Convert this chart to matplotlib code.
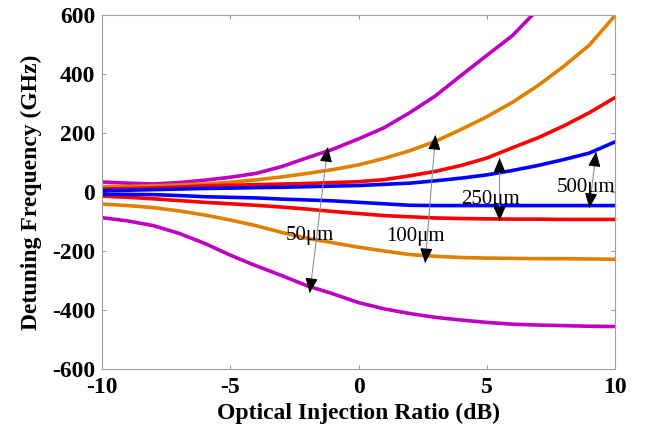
import numpy as np
import matplotlib
matplotlib.use("Agg")
import matplotlib.pyplot as plt

plt.rcParams["axes.unicode_minus"] = False

# ---- data ----
x_full = [-10, -9, -8, -7, -6, -5, -4, -3, -2, -1, 0, 1, 2, 3, 4, 5, 6, 7, 8, 9, 10]
x_mag_up = [-10, -9, -8, -7, -6, -5, -4, -3, -2, -1, 0, 1, 2, 3, 4, 5, 6, 7]
y_mag_up = [34, 30, 27, 32, 40, 50, 63, 86, 116, 145, 180, 218, 269, 326, 395, 463, 530, 620]
y_ora_up = [18, 19, 21, 24, 27, 33, 41, 51, 63, 76, 92, 114, 140, 172, 212, 255, 304, 361, 426, 498, 598]
y_red_up = [10, 12, 14, 17, 21, 23, 25, 27, 29, 32, 35, 42, 55, 70, 90, 115, 150, 184, 224, 269, 320]
y_blu_up = [5, 6, 8, 10, 12, 13, 15, 16, 18, 20, 22, 26, 30, 38, 47, 58, 73, 90, 110, 132, 170]

y_blu_lo = [-7, -8, -9, -12, -16, -18, -20, -24, -27, -30, -35, -40, -45, -46, -46, -46, -46, -46, -46, -46, -46]
y_red_lo = [-14, -18, -23, -29, -35, -40, -45, -51, -58, -66, -73, -80, -84, -88, -90, -91, -92, -92, -93, -93, -93]
y_ora_lo = [-41, -46, -53, -64, -78, -95, -114, -137, -157, -172, -187, -200, -212, -218, -222, -224, -225, -226, -226, -227, -228]
y_mag_lo = [-87, -98, -114, -140, -174, -214, -250, -283, -318, -345, -375, -396, -412, -425, -434, -442, -448, -451, -453, -455, -456]

# annotations: label, label position, upper tip, lower tip
ann_labels = ["50\u03bcm", "100\u03bcm", "250\u03bcm", "500\u03bcm"]
ann_text_xy = [(-1.9, -149), (2.2, -151), (5.15, -26), (8.87, 14)]
ann_up_tip = [(-1.2, 152), (3.0, 193), (5.5, 115), (9.26, 136)]
ann_lo_tip = [(-1.9, -342), (2.6, -241), (5.5, -98), (9.0, -54)]

xticks = [-10, -5, 0, 5, 10]
yticks = [-600, -400, -200, 0, 200, 400, 600]

# ---- styling ----
c_mag = "#C000C0"
c_ora = "#E08000"
c_red = "#FF0000"
c_blu = "#0000FF"
lw = 2.6

fig = plt.figure(figsize=(6.52, 4.32), dpi=100)
ax = fig.add_axes([0.1564, 0.1458, 0.7869, 0.8195])

ax.plot(x_mag_up, y_mag_up, color=c_mag, lw=lw)
ax.plot(x_full, y_mag_lo, color=c_mag, lw=lw)
ax.plot(x_full, y_ora_up, color=c_ora, lw=lw)
ax.plot(x_full, y_ora_lo, color=c_ora, lw=lw)
ax.plot(x_full, y_red_up, color=c_red, lw=lw)
ax.plot(x_full, y_red_lo, color=c_red, lw=lw)
ax.plot(x_full, y_blu_up, color=c_blu, lw=lw)
ax.plot(x_full, y_blu_lo, color=c_blu, lw=lw)

ax.set_xlim(-10, 10)
ax.set_ylim(-600, 600)
ax.set_xticks(xticks)
ax.set_yticks(yticks)

serif = ["Liberation Serif", "DejaVu Serif"]
for lab in ax.get_xticklabels() + ax.get_yticklabels():
    lab.set_family(serif)
    lab.set_fontweight("bold")
    lab.set_fontsize(17)

ax.tick_params(direction="in", length=3, width=0.6, color="#808080",
               top=True, right=True)
ax.tick_params(axis="x", pad=6)
ax.tick_params(axis="y", pad=5)
for s in ax.spines.values():
    s.set_color("#a0a0a0")
    s.set_linewidth(0.8)

ax.set_xlabel("Optical Injection Ratio (dB)", family=serif, fontweight="bold",
              fontsize=17, labelpad=3)
ax.set_ylabel("Detuning Frequency (GHz)", family=serif, fontweight="bold",
              fontsize=17, labelpad=7)

# double arrows
def head(tip, other):
    fx = tip[0] + (other[0] - tip[0]) * 0.02
    fy = tip[1] + (other[1] - tip[1]) * 0.02
    ax.annotate("", xy=tip, xytext=(fx, fy),
                arrowprops=dict(arrowstyle="-|>,head_length=0.9,head_width=0.38",
                                fc="k", ec="k", lw=0.8, shrinkA=0, shrinkB=0))

for lab, txy, up, lo in zip(ann_labels, ann_text_xy, ann_up_tip, ann_lo_tip):
    ax.annotate("", xy=up, xytext=lo,
                arrowprops=dict(arrowstyle="-", color="#909090", lw=0.8,
                                shrinkA=0, shrinkB=0))
    head(up, lo)
    head(lo, up)
    ax.text(txy[0], txy[1], lab, family=serif, fontsize=15,
            ha="center", va="center")

fig.savefig("out.png", dpi=100)
